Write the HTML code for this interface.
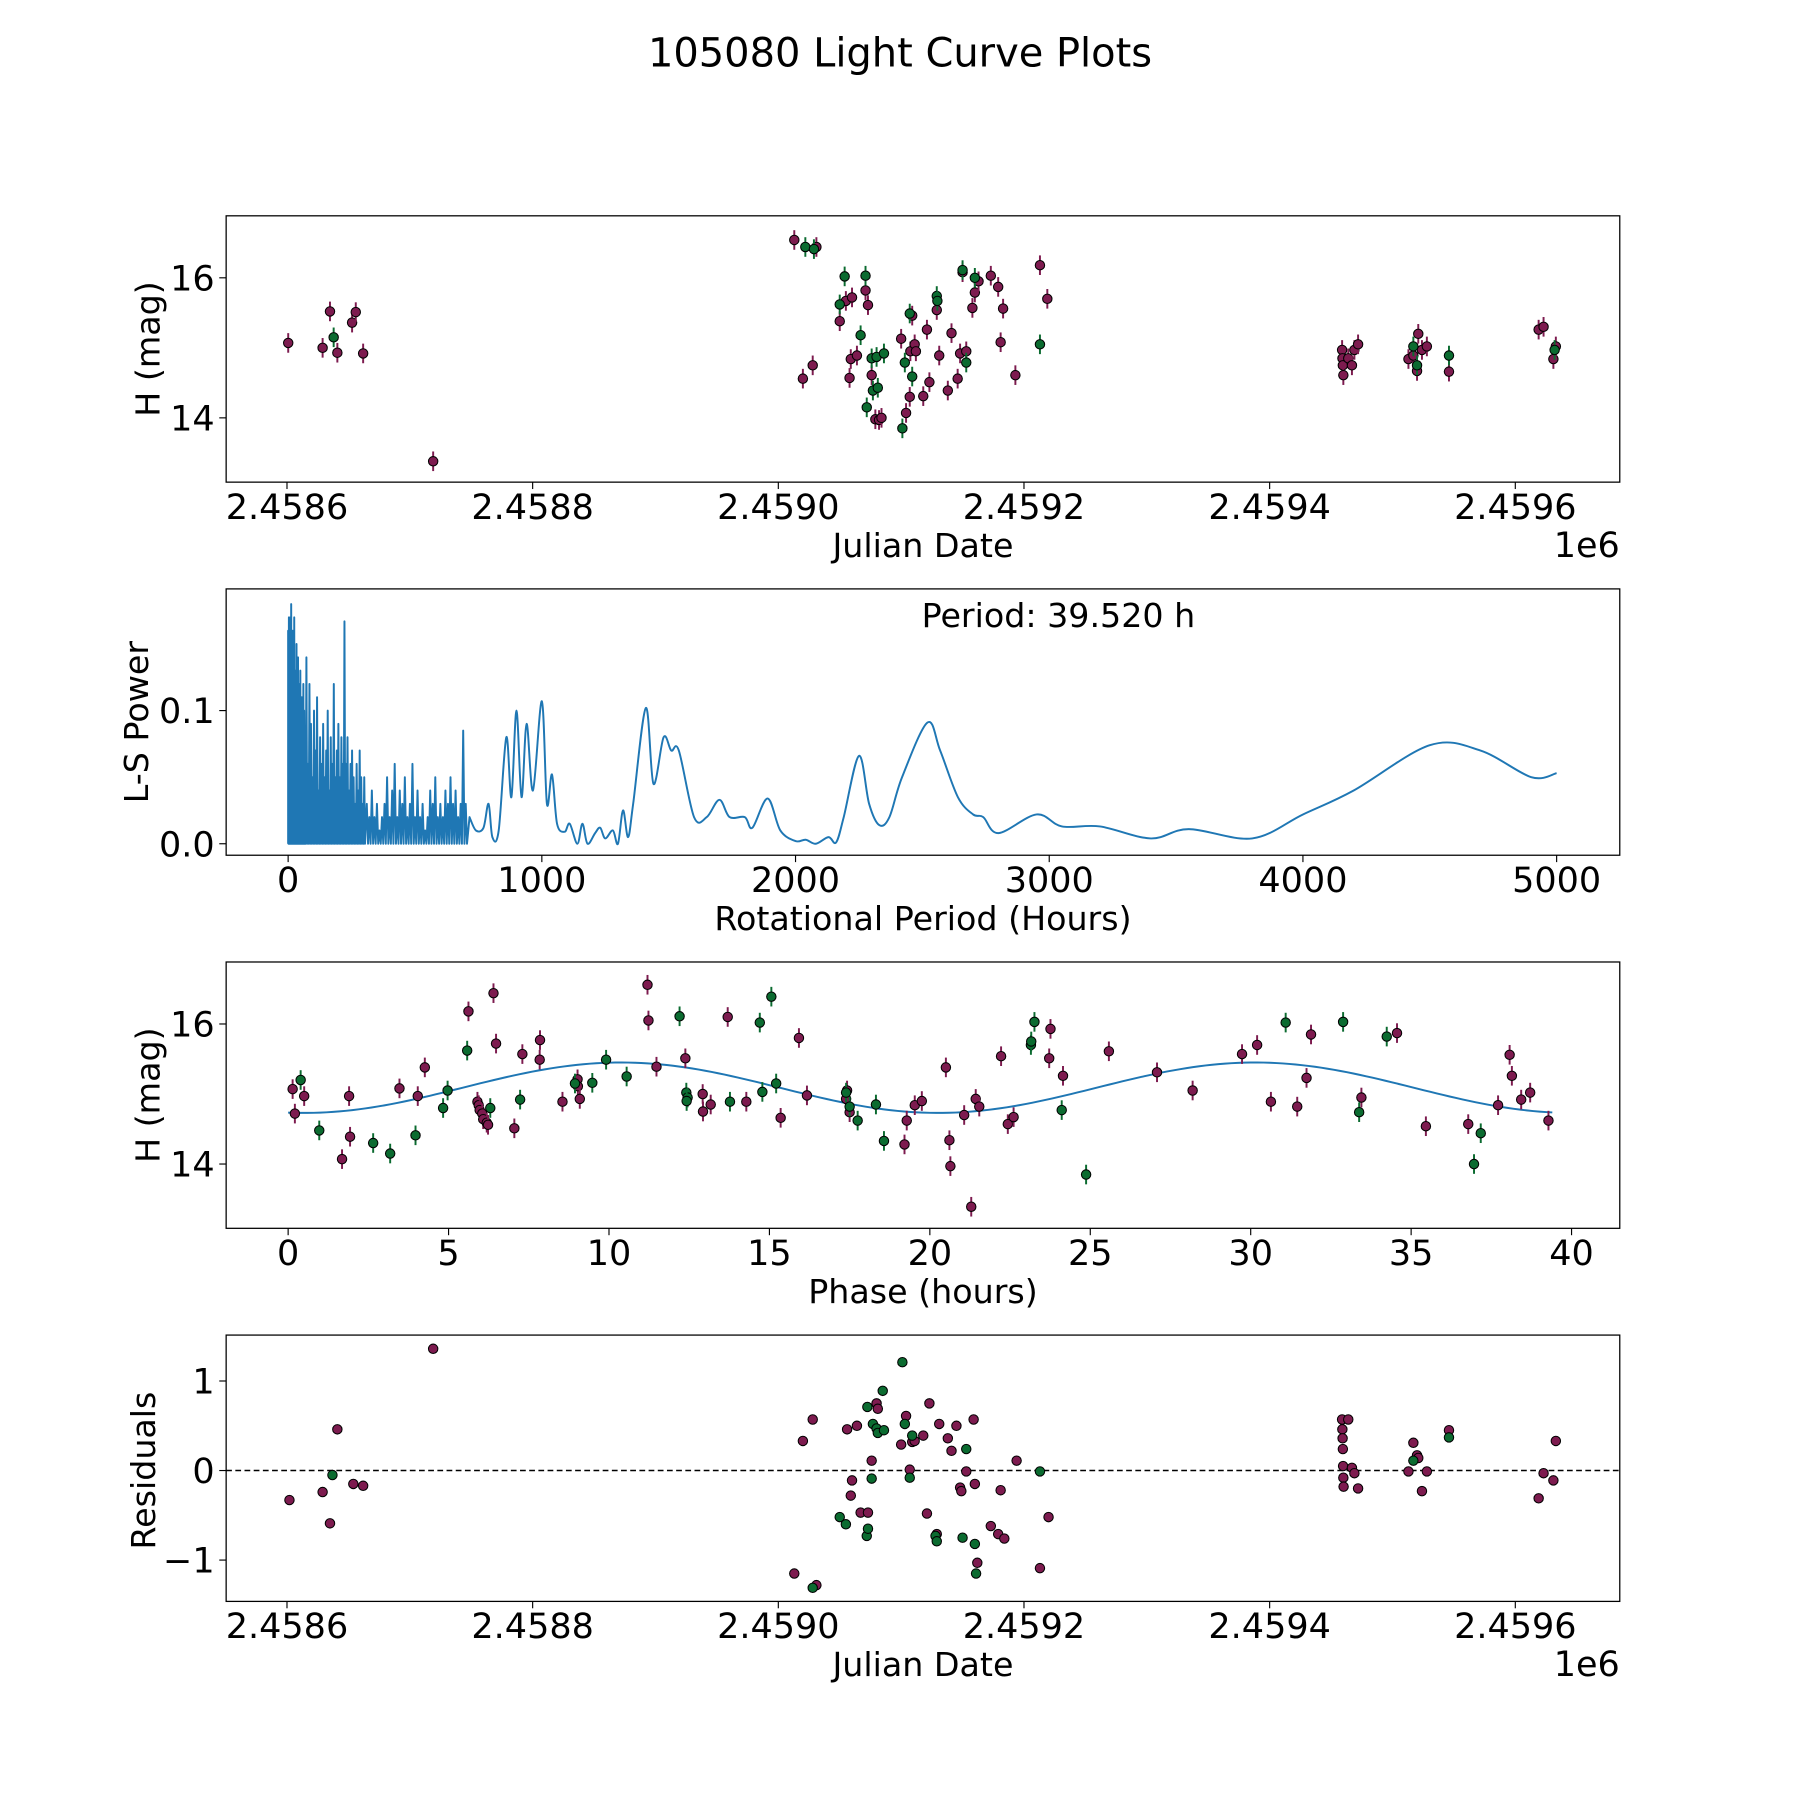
<!DOCTYPE html>
<html><head><meta charset="utf-8"><style>
html,body{margin:0;padding:0;background:#fff}
svg{display:block;font-family:"DejaVu Sans","Liberation Sans",sans-serif}
</style></head><body>
<svg id="fig" width="1800" height="1800" viewBox="0 0 1568 1568" xmlns="http://www.w3.org/2000/svg">
<rect width="1568" height="1568" fill="#fff"/>
<text x="784" y="58" font-size="34.8" text-anchor="middle">105080 Light Curve Plots</text>
<g id="root"></g>
</svg>
<script>
// ---- Panel 1: light curve (days since JD 2458600, magnitude) ----
const lcDaysM=[1,29,35,41,53,56,62,119,413,420,428,431,450,455,458,459,460,464,471,473,476,479,482,484,500,504,507,507.5,509,511,512,518,521,523,529,531,538,541,546,548,550,553,558,560,563,573,579,583,581,593,613,619,859,859.3,859.6,860,864,867,869,872,913,917,920,921,924,928,946,1019,1023,1031,1033];
const lcMagM=[15.07,15.00,15.52,14.93,15.36,15.51,14.92,13.38,16.54,14.56,14.75,16.44,15.38,15.67,14.57,14.84,15.72,14.89,15.82,15.61,14.61,13.98,13.97,14.00,15.13,14.07,14.30,14.95,15.46,15.05,14.95,14.31,15.26,14.51,15.54,14.89,14.39,15.21,14.56,14.92,16.08,14.95,15.57,15.79,15.95,16.03,15.87,15.56,15.08,14.61,16.18,15.70,14.97,14.85,14.75,14.61,14.85,14.75,14.97,15.05,14.84,14.89,14.67,15.20,14.97,15.02,14.66,15.26,15.30,14.84,15.02];
const lcDaysG=[38,422,429,450,454,467,471,472,476,477,480,481,486,501,503,507,509,529,529.5,550,553,560,613,917,920,946,1032];
const lcMagG=[15.15,16.44,16.41,15.62,16.02,15.18,16.03,14.15,14.85,14.39,14.87,14.43,14.92,13.85,14.79,15.49,14.59,15.74,15.67,16.11,14.79,16.00,15.05,15.02,14.75,14.89,14.97];
const magErr=0.14;
const jdTicks=[0,200,400,600,800,1000];
const jdTickLabels=["2.4586","2.4588","2.4590","2.4592","2.4594","2.4596"];
const magTicks=[14,16];

// ---- Panel 2: periodogram ----
const spikePeriodA=[0,3,6,9,12,15,18,21,24,27,30,33,36,39,42,45,48,51,54,57,60,63];
const spikePowerA=[0.16,0.17,0.15,0.17,0.18,0.12,0.16,0.14,0.17,0.11,0.13,0.15,0.09,0.14,0.12,0.10,0.13,0.08,0.11,0.09,0.12,0.10];
const spikePeriodB=[66,72,78,84,90,96,102,108,114,120,126,132,138,144,150,156,162,168,174,180,186,192,198,204,210,216,222,228,234,240,246,252,258,264,270,276,282,288,294,300];
const spikePowerB=[0.08,0.14,0.06,0.12,0.09,0.05,0.10,0.07,0.11,0.04,0.08,0.06,0.09,0.05,0.07,0.10,0.04,0.08,0.06,0.12,0.05,0.07,0.09,0.05,0.08,0.06,0.167,0.06,0.08,0.04,0.06,0.07,0.05,0.03,0.06,0.04,0.07,0.05,0.03,0.05];
const spikePeriodC=[310,320,330,340,350,360,370,380,390,400,410,420,430,440,450,460,470,480,490,500,510,520,530,540,550,560,570,580,590,600,610,620,630,640,650,660,670,680,690,700];
const spikePowerC=[0.03,0.02,0.04,0.02,0.03,0.01,0.02,0.03,0.05,0.02,0.04,0.06,0.02,0.04,0.03,0.05,0.02,0.03,0.06,0.02,0.04,0.02,0.03,0.01,0.02,0.04,0.03,0.05,0.02,0.03,0.02,0.04,0.03,0.05,0.03,0.04,0.02,0.03,0.085,0.03];
const smoothPeriod=[715,740,770,790,805,830,860,880,900,920,940,965,1000,1020,1040,1060,1090,1110,1140,1160,1180,1210,1230,1250,1280,1300,1320,1340,1360,1410,1440,1480,1510,1540,1600,1650,1700,1740,1800,1830,1890,1940,2000,2040,2080,2130,2160,2190,2250,2290,2330,2370,2420,2520,2570,2640,2700,2740,2800,2950,3050,3200,3400,3550,3800,4000,4200,4500,4700,4900,5000];
const smoothPower=[0.02,0.01,0.012,0.03,0.005,0.01,0.08,0.035,0.10,0.035,0.09,0.04,0.107,0.03,0.052,0.015,0.009,0.015,0.0,0.015,0.0,0.008,0.012,0.004,0.01,0.0,0.025,0.005,0.03,0.102,0.045,0.08,0.07,0.07,0.02,0.02,0.033,0.02,0.02,0.012,0.034,0.01,0.002,0.003,0.0,0.005,0.001,0.02,0.066,0.03,0.014,0.02,0.05,0.091,0.07,0.035,0.022,0.02,0.008,0.022,0.013,0.013,0.004,0.011,0.004,0.022,0.04,0.074,0.07,0.05,0.053];
const periodTicks=[0,1000,2000,3000,4000,5000];
const powerTicks=[0,0.1];
const powerTickLabels=["0.0","0.1"];

// ---- Panel 3: phased light curve ----
const phaseM=[0.14,0.21,0.5,1.68,1.9,1.93,3.47,4.04,4.26,5.62,5.9,5.94,5.97,6.05,6.08,6.19,6.23,6.4,6.48,7.05,7.3,7.84,7.85,8.55,9.02,9.03,9.09,11.2,11.23,11.48,12.38,12.92,12.93,13.17,13.7,14.28,15.35,15.92,16.17,17.39,17.42,17.5,19.28,19.21,19.53,19.75,20.5,20.61,20.64,21.07,21.29,21.43,21.54,22.22,22.43,22.61,23.76,23.72,24.15,25.58,27.08,28.19,29.73,30.2,30.63,31.45,31.74,31.88,33.45,34.56,35.46,36.78,37.71,38.07,38.14,38.43,38.71,39.28];
const phMagM=[15.07,14.72,14.97,14.07,14.97,14.39,15.08,14.97,15.38,16.18,14.89,14.84,14.77,14.72,14.64,14.59,14.56,16.44,15.72,14.51,15.57,15.49,15.77,14.89,15.21,15.11,14.93,16.56,16.05,15.39,15.51,15.00,14.75,14.85,16.10,14.89,14.66,15.80,14.98,14.93,15.05,14.74,14.62,14.28,14.84,14.90,15.38,14.34,13.97,14.70,13.39,14.93,14.82,15.54,14.57,14.67,15.93,15.51,15.26,15.61,15.31,15.05,15.57,15.70,14.89,14.82,15.23,15.85,14.95,15.87,14.54,14.57,14.84,15.56,15.26,14.92,15.02,14.62];
const phaseG=[0.39,0.97,2.65,3.18,3.97,4.83,4.97,5.58,6.3,7.23,8.94,9.48,9.91,10.55,12.2,12.41,12.45,12.42,13.77,14.7,14.78,15.06,15.21,17.39,17.5,17.75,18.32,18.57,23.15,23.16,23.26,24.11,24.87,31.09,32.88,33.38,34.24,36.96,37.17];
const phMagG=[15.20,14.48,14.30,14.15,14.41,14.80,15.05,15.62,14.80,14.92,15.15,15.16,15.49,15.25,16.11,15.02,14.95,14.90,14.89,16.02,15.03,16.39,15.15,15.02,14.82,14.62,14.85,14.33,15.70,15.75,16.03,14.77,13.85,16.02,16.03,14.74,15.82,14.00,14.44];
const modelMean=15.09, modelAmp=0.36, modelPeriod=39.52, modelMinPhase=0.5;
const phaseTicks=[0,5,10,15,20,25,30,35,40];

// ---- Panel 4: residuals ----
const resDaysM=[2,29,35,41,54,62,119,413,420,428,431,456,459,460,464,467,473,476,480,481,500,504,507,509,511,518,521,523,529,531,538,541,545,548,549,553,559,560,562,573,579,584,581,594,613,620,859,859.2,859.4,859.6,859.8,860,860.2,864,867,869,872,913,917,920,921,924,928,946,1019,1023,1031,1033];
const resValM=[-0.33,-0.24,-0.59,0.46,-0.15,-0.17,1.36,-1.15,0.33,0.57,-1.28,0.46,-0.28,-0.11,0.50,-0.47,-0.47,0.11,0.75,0.69,0.29,0.61,0.01,0.32,0.33,0.39,-0.48,0.75,-0.71,0.52,0.36,0.22,0.50,-0.19,-0.23,-0.01,0.57,-0.15,-1.03,-0.62,-0.71,-0.76,-0.22,0.11,-1.09,-0.52,0.57,0.46,0.36,0.24,0.05,-0.08,-0.18,0.57,0.03,-0.03,-0.20,-0.01,0.31,0.17,0.14,-0.23,-0.01,0.45,-0.31,-0.03,-0.11,0.33];
const resDaysG=[37,428,450,455,472,473,476,477,480,481,486,472.5,485,501,503,507,509,528,529,550,553,560,561,613,917,946];
const resValG=[-0.05,-1.31,-0.52,-0.60,-0.73,-0.65,-0.09,0.52,0.47,0.42,0.45,0.71,0.89,1.21,0.52,-0.08,0.39,-0.73,-0.79,-0.75,0.24,-0.82,-1.15,-0.01,0.11,0.37];
const resTicks=[-1,0,1];

const NS="http://www.w3.org/2000/svg";
const root=document.getElementById('root');
const MAG="#7d1b4f", GRN="#0b6b30", BLUE="#1f77b4";
const TICKFS=30.5, LABFS=29;
function mk(tag,attrs,parent){const e=document.createElementNS(NS,tag);for(const k in attrs)e.setAttribute(k,attrs[k]);(parent||root).appendChild(e);return e;}
const L=197,R=1411;
const panels=[{t:188,b:420},{t:513,b:745},{t:838,b:1070},{t:1163,b:1395}];
function lin(d0,d1,p0,p1){return v=>p0+(v-d0)*(p1-p0)/(d1-d0);}
const xJD=lin(0,1000,250,1320);
function frame(p,name){const r=mk('rect',{x:L,y:p.t,width:R-L,height:p.b-p.t,fill:'none',stroke:'#000','stroke-width':1.1});

}
function xTicks(p,vals,labels,sx,name){const g=mk('g',{});


vals.forEach((v,i)=>{const x=sx(v);mk('line',{x1:x,x2:x,y1:p.b,y2:p.b+6,stroke:'#000','stroke-width':1},g);
const t=mk('text',{x:x,y:p.b+32,'font-size':TICKFS,'text-anchor':'middle'},g);t.textContent=labels[i];});}
function yTicks(p,vals,labels,sy,name){const g=mk('g',{});


vals.forEach((v,i)=>{const y=sy(v);mk('line',{x1:L-6,x2:L,y1:y,y2:y,stroke:'#000','stroke-width':1},g);
const t=mk('text',{x:L-10,y:y+11,'font-size':TICKFS,'text-anchor':'end'},g);t.textContent=labels[i];});}
function label(x,y,txt,rot,name){const t=mk('text',{x:x,y:y,'font-size':LABFS,'text-anchor':'middle',transform:rot?`rotate(-90 ${x} ${y})`:''});t.textContent=txt;

}
function points(xs,ys,sx,sy,col,err,name){const g=mk('g',{});


xs.forEach((v,i)=>{const x=sx(v),y=sy(ys[i]);
if(err){mk('line',{x1:x,x2:x,y1:sy(ys[i]+err),y2:sy(ys[i]-err),stroke:col,'stroke-width':1.7},g);}
const c=mk('circle',{cx:x,cy:y,r:4.1,fill:col,stroke:'#000','stroke-width':0.9},g);

});}

// Panel 1
{const p=panels[0];frame(p,'light-curve-axes');
const sy=lin(14,16,364,242);
points(lcDaysM,lcMagM,xJD,sy,MAG,magErr,'series-magenta');
points(lcDaysG,lcMagG,xJD,sy,GRN,magErr,'series-green');
xTicks(p,jdTicks,jdTickLabels,xJD,'x-axis-ticks-jd');
yTicks(p,magTicks,magTicks.map(String),sy,'y-axis-ticks-mag');
label(804,485,'Julian Date',false,'x-axis-title');
label(139,304,'H (mag)',true,'y-axis-title');
const o=mk('text',{x:1411,y:485,'font-size':TICKFS,'text-anchor':'end'});o.textContent='1e6';

}

// Panel 2
{const p=panels[1];frame(p,'periodogram-axes');
const sx=lin(0,5000,251,1356), sy=lin(0,0.1,735,619);
let d=`M${sx(0)},${sy(0)}`;
function spikes(P,W,step){P.forEach((v,i)=>{d+=` L${sx(v)},${sy(W[i])} L${sx(v+step/2)},${sy(0)}`;});}
spikes(spikePeriodA,spikePowerA,3);spikes(spikePeriodB,spikePowerB,6);spikes(spikePeriodC,spikePowerC,10);
const px=smoothPeriod.map(sx), py=smoothPower.map(sy);
d+=` L${px[0]},${py[0]}`;
for(let i=0;i<px.length-1;i++){const x0=px[Math.max(0,i-1)],y0=py[Math.max(0,i-1)],x1=px[i],y1=py[i],x2=px[i+1],y2=py[i+1],x3=px[Math.min(px.length-1,i+2)],y3=py[Math.min(px.length-1,i+2)];
d+=` C${x1+(x2-x0)/6},${y1+(y2-y0)/6} ${x2-(x3-x1)/6},${y2-(y3-y1)/6} ${x2},${y2}`;}
const path=mk('path',{d:d,fill:'none',stroke:BLUE,'stroke-width':1.7,'stroke-linejoin':'round'});


xTicks(p,periodTicks,periodTicks.map(String),sx,'x-axis-ticks-period');
yTicks(p,powerTicks,powerTickLabels,sy,'y-axis-ticks-power');
label(804,810,'Rotational Period (Hours)',false,'x-axis-title-period');
label(129,629,'L-S Power',true,'y-axis-title-power');
const t=mk('text',{x:922,y:546,'font-size':LABFS,'text-anchor':'middle'});t.textContent='Period: 39.520 h';

}

// Panel 3
{const p=panels[2];frame(p,'phase-axes');
const sx=lin(0,40,251,1369), sy=lin(14,16,1014,892);
let d='';for(let ph=0;ph<=modelPeriod;ph+=0.2){const m=modelMean-modelAmp*Math.cos(4*Math.PI*(ph-modelMinPhase)/modelPeriod);d+=(d?' L':'M')+sx(ph)+','+sy(m);}
const c=mk('path',{d:d,fill:'none',stroke:BLUE,'stroke-width':1.7});


points(phaseM,phMagM,sx,sy,MAG,magErr,'phase-series-magenta');
points(phaseG,phMagG,sx,sy,GRN,magErr,'phase-series-green');
xTicks(p,phaseTicks,phaseTicks.map(String),sx,'x-axis-ticks-phase');
yTicks(p,magTicks,magTicks.map(String),sy,'y-axis-ticks-phase-mag');
label(804,1135,'Phase (hours)',false,'x-axis-title-phase');
label(139,954,'H (mag)',true,'y-axis-title-phase');}

// Panel 4
{const p=panels[3];frame(p,'residuals-axes');
const sy=lin(0,1,1281,1203);
const z=mk('line',{x1:L,x2:R,y1:sy(0),y2:sy(0),stroke:'#000','stroke-width':1.3,'stroke-dasharray':'5,3'});


points(resDaysM,resValM,xJD,sy,MAG,0,'residual-series-magenta');
points(resDaysG,resValG,xJD,sy,GRN,0,'residual-series-green');
xTicks(p,jdTicks,jdTickLabels,xJD,'x-axis-ticks-res');
yTicks(p,resTicks,resTicks.map(v=>v<0?'\u2212'+Math.abs(v):String(v)),sy,'y-axis-ticks-res');
label(804,1460,'Julian Date',false,'x-axis-title-res');
label(135,1281,'Residuals',true,'y-axis-title-res');
const o=mk('text',{x:1411,y:1460,'font-size':TICKFS,'text-anchor':'end'});o.textContent='1e6';

}
</script>
</body></html>
